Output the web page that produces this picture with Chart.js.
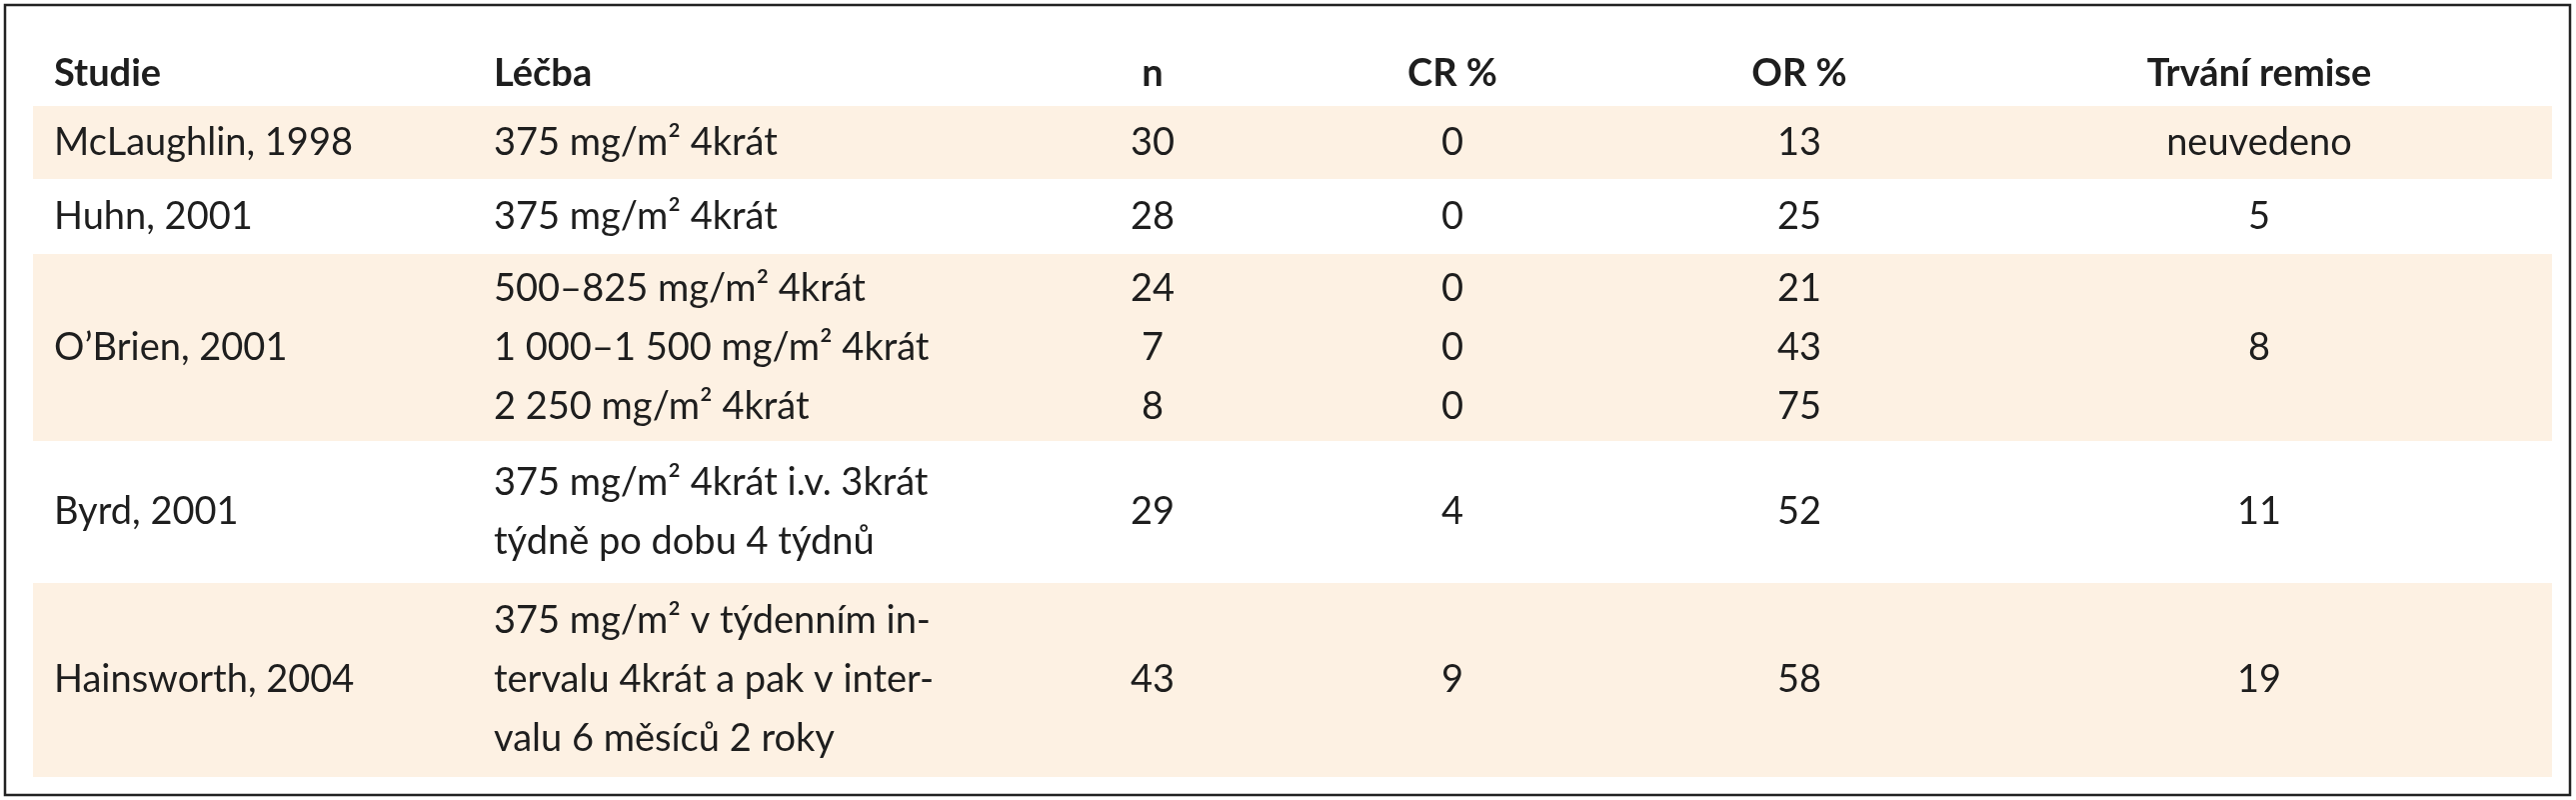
<!DOCTYPE html>
<html><head><meta charset="utf-8">
<script src="https://cdn.jsdelivr.net/npm/chart.js@4"></script>
<style>html,body{margin:0;padding:0;background:#fff}#w{width:2577px;height:800px}</style>
</head><body><div id="w"><canvas id="c"></canvas></div>
<script>
const headers = ["Studie","Léčba","n","CR %","OR %","Trvání remise"];
const studies = ["McLaughlin, 1998","Huhn, 2001","O’Brien, 2001","Byrd, 2001","Hainsworth, 2004"];
const treatments = [
  ["375 mg/m² 4krát"],
  ["375 mg/m² 4krát"],
  ["500–825 mg/m² 4krát","1 000–1 500 mg/m² 4krát","2 250 mg/m² 4krát"],
  ["375 mg/m² 4krát i.v. 3krát","týdně po dobu 4 týdnů"],
  ["375 mg/m² v týdenním in-","tervalu 4krát a pak v inter-","valu 6 měsíců 2 roky"]
];
const nVals = [["30"],["28"],["24","7","8"],["29"],["43"]];
const crVals = [["0"],["0"],["0","0","0"],["4"],["9"]];
const orVals = [["13"],["25"],["21","43","75"],["52"],["58"]];
const remission = ["neuvedeno","5","8","11","19"];
const shaded = [true,false,true,false,true];

const rowBounds = [[106,179],[179,254],[254,441],[441,583],[583,777]];
const colX = [54,494,1153,1453,1800,2260];
const colAlign = ["left","left","center","center","center","center"];
const lineGap = 59;

const tablePlugin = {
  id:'table',
  beforeDatasetsDraw(chart){
    const {ctx, scales:{x,y}} = chart;
    ctx.save();
    ctx.strokeStyle = '#222'; ctx.lineWidth = 2.5;
    ctx.strokeRect(x.getPixelForValue(5), y.getPixelForValue(5), x.getPixelForValue(2571)-x.getPixelForValue(5), y.getPixelForValue(795)-y.getPixelForValue(5));
    rowBounds.forEach((b,i)=>{
      if(shaded[i]){
        ctx.fillStyle = '#fdf1e3';
        ctx.fillRect(x.getPixelForValue(33), y.getPixelForValue(b[0]), x.getPixelForValue(2553)-x.getPixelForValue(33), y.getPixelForValue(b[1])-y.getPixelForValue(b[0]));
      }
    });
    ctx.fillStyle = '#1e1e1e';
    ctx.textBaseline = 'middle';
    const put = (t,col,yy,bold)=>{
      ctx.font = (bold?'bold ':'') + '38px Lato, "Open Sans", sans-serif';
      ctx.textAlign = colAlign[col];
      ctx.fillText(t, x.getPixelForValue(colX[col]), y.getPixelForValue(yy));
    };
    headers.forEach((h,i)=>put(h,i,74,true));
    const lines = (arr,mid)=>arr.map((t,k)=>[t, mid + (k-(arr.length-1)/2)*lineGap]);
    studies.forEach((s,i)=>{
      const mid = (rowBounds[i][0]+rowBounds[i][1])/2;
      put(s,0,mid);
      lines(treatments[i],mid).forEach(([t,yy])=>put(t,1,yy));
      lines(nVals[i],mid).forEach(([t,yy])=>put(t,2,yy));
      lines(crVals[i],mid).forEach(([t,yy])=>put(t,3,yy));
      lines(orVals[i],mid).forEach(([t,yy])=>put(t,4,yy));
      put(remission[i],5,mid);
    });
    ctx.restore();
  }
};

new Chart(document.getElementById('c'),{
  type:'scatter',
  data:{datasets:[{data:[],pointRadius:0}]},
  options:{
    responsive:true, maintainAspectRatio:false, animation:false,
    layout:{padding:0},
    plugins:{legend:{display:false},tooltip:{enabled:false}},
    scales:{
      x:{type:'linear',min:0,max:2577,display:false},
      y:{type:'linear',min:0,max:800,reverse:true,display:false}
    }
  },
  plugins:[tablePlugin]
});
</script></body></html>
